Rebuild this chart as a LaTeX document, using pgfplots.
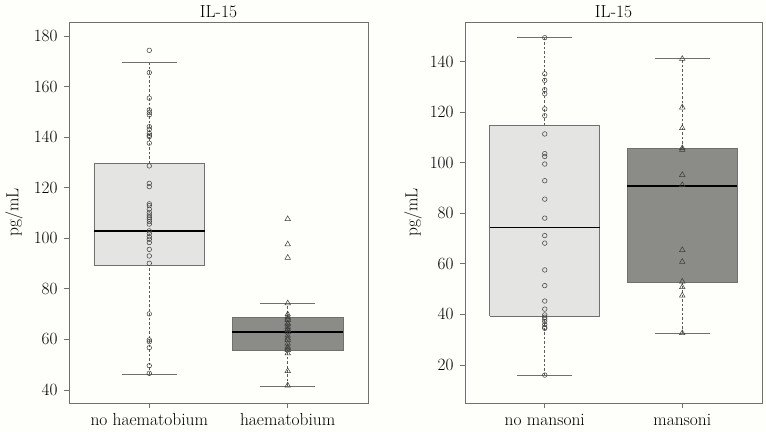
\documentclass[border=0pt]{standalone}
\usepackage{pgfplots}
\pgfplotsset{compat=1.18}
\definecolor{lightbox}{RGB}{228,229,226}
\definecolor{darkbox}{RGB}{139,140,136}
\definecolor{frame}{RGB}{112,112,112}
\definecolor{bg}{RGB}{254,254,250}
\definecolor{mk}{RGB}{60,60,60}
\definecolor{whiskcol}{RGB}{90,90,90}
\newcommand\myfont{\fontsize{17.5}{20}\selectfont}
% whiskers: #1 centre, #2 cap left, #3 cap right, #4 lower whisker, #5 Q1, #6 Q3, #7 upper whisker
\newcommand\whisk[7]{%
  \addplot[whiskcol, dash pattern=on 2.5pt off 2pt, line width=0.6pt] coordinates {(#1,#4) (#1,#5)};
  \addplot[whiskcol, dash pattern=on 2.5pt off 2pt, line width=0.6pt] coordinates {(#1,#6) (#1,#7)};
  \addplot[frame, line width=0.8pt] coordinates {(#2,#4) (#3,#4)};
  \addplot[frame, line width=0.8pt] coordinates {(#2,#7) (#3,#7)};
}
% box: #1 colour, #2 left, #3 right, #4 Q1, #5 median, #6 Q3
\newcommand\boxx[6]{%
  \addplot[fill=#1, draw=frame, line width=0.8pt, line join=miter] coordinates {(#2,#4) (#3,#4) (#3,#6) (#2,#6) (#2,#4)};
  \addplot[black, line width=1.8pt] coordinates {(#2,#5) (#3,#5)};
}
\pgfplotsset{
  panel/.style={
    scale only axis, width=#1, height=381bp, anchor=south west,
    xmin=0.42, xmax=2.58,
    xtick={1,2},
    axis line style={frame, line width=0.8pt},
    tick style={frame, line width=0.8pt},
    tick align=outside, major tick length=5bp,
    xtick pos=bottom, ytick pos=left,
    ticklabel style={font=\myfont},
    xticklabel style={anchor=base, yshift=-17bp},
    yticklabel style={xshift=-3bp},
    title style={font=\myfont, anchor=base, yshift=-1bp},
    title={IL-15}, ylabel={pg/mL},
    clip=false,
  },
  circ/.style={only marks, mark=o, mark size=2.3bp, mark options={mk, line width=0.5pt}},
  tri/.style={only marks, mark=triangle, mark size=3.2bp, mark options={mk, line width=0.5pt}},
}
\begin{document}
\begin{tikzpicture}
\path[use as bounding box, fill=bg] (0,0) rectangle (766bp,432bp);
% ---------- left panel ----------
\begin{axis}[panel=299bp, at={(69bp,29bp)},
  ymin=34.86, ymax=185.5, ytick={40,60,...,180},
  xticklabels={no haematobium, haematobium},
  every axis y label/.style={at={(axis description cs:-0.184,0.5)}, rotate=90, anchor=center, font=\myfont}]
\whisk{1}{0.8}{1.2}{46.3}{89.4}{129.6}{169.4}
\whisk{2}{1.8}{2.2}{41.6}{55.5}{68.6}{74.3}
\boxx{lightbox}{0.6}{1.4}{89.4}{102.9}{129.6}
\boxx{darkbox}{1.6}{2.4}{55.5}{62.8}{68.6}
\addplot[circ] coordinates {
(1,174.3) (1,165.5) (1,155.4) (1,150.7) (1,149.7) (1,148.8) (1,144.1) (1,143.1)
(1,141.5) (1,140.7) (1,140.2) (1,137.6) (1,128.6) (1,121.7) (1,120.4) (1,113.6)
(1,112.9) (1,111.5) (1,110.2) (1,109.2) (1,108.3) (1,107.5) (1,106.6) (1,105.6)
(1,102.9) (1,101.9) (1,100.6) (1,99.6) (1,98.3) (1,95.6) (1,93.0) (1,90.1)
(1,70.1) (1,59.8) (1,59.1) (1,56.7) (1,49.6) (1,46.6)};
\addplot[tri] coordinates {
(2,107.6) (2,97.6) (2,92.3) (2,74.3) (2,69.9) (2,69.0) (2,68.3) (2,67.7) (2,66.4)
(2,66.0) (2,65.0) (2,64.2) (2,63.7) (2,62.8) (2,61.5) (2,60.5) (2,59.8) (2,58.4)
(2,57.1) (2,56.5) (2,55.8) (2,54.5) (2,47.5) (2,41.8)};
\end{axis}
% ---------- right panel ----------
\begin{axis}[panel=297bp, at={(465bp,29bp)},
  ymin=4.95, ymax=155.7, ytick={20,40,...,140},
  xticklabels={no mansoni, mansoni},
  every axis y label/.style={at={(axis description cs:-0.175,0.5)}, rotate=90, anchor=center, font=\myfont}]
\whisk{1}{0.8}{1.2}{16.0}{39.3}{114.8}{149.5}
\whisk{2}{1.8}{2.2}{32.6}{52.6}{105.8}{141.1}
\boxx{lightbox}{0.6}{1.4}{39.3}{74.4}{114.8}
\boxx{darkbox}{1.6}{2.4}{52.6}{90.9}{105.8}
\addplot[circ] coordinates {
(1,149.5) (1,135.2) (1,132.6) (1,128.9) (1,127.3) (1,121.3) (1,118.6) (1,111.4)
(1,103.6) (1,102.5) (1,99.5) (1,92.9) (1,85.6) (1,78.1) (1,71.2) (1,68.2)
(1,57.6) (1,51.4) (1,45.3) (1,42.1) (1,39.8) (1,38.9) (1,38.1) (1,37.2)
(1,36.0) (1,34.9) (1,34.5) (1,16.0)};
\addplot[tri] coordinates {
(2,141.1) (2,121.9) (2,113.7) (2,105.8) (2,105.1) (2,95.2) (2,91.2) (2,65.5)
(2,60.8) (2,53.0) (2,50.8) (2,47.5) (2,32.6)};
\end{axis}
\end{tikzpicture}
\end{document}
